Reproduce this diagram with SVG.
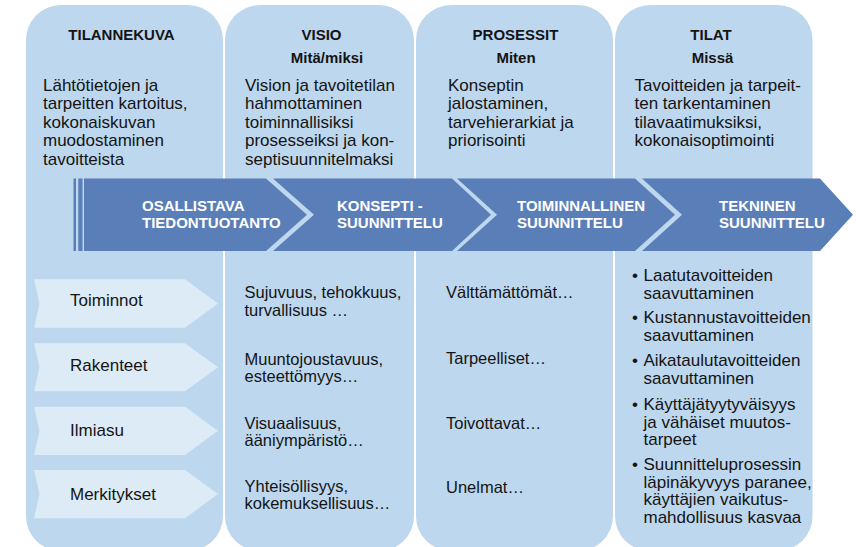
<svg xmlns="http://www.w3.org/2000/svg" width="856" height="547" viewBox="0 0 856 547">
<style>
.panel{fill:#BDD7EE}
.band{fill:#5A7EB7}
.light{fill:#DDEBF7}
text{font-family:"Liberation Sans",Arial,sans-serif;fill:#141414}
.title{font-size:15px;font-weight:bold;text-anchor:middle}
.body{font-size:17px}
.row{font-size:16.5px}
.band-t{font-size:15px;font-weight:bold;fill:#FFFFFF}
</style>
<rect width="856" height="547" fill="#FFFFFF"/>
<g id="col-tilannekuva">
<rect class="panel" x="26" y="5" width="197" height="546" rx="35"/>
<text class="title" x="121.5" y="40">TILANNEKUVA</text>
<text class="body" x="43" y="91">Lähtötietojen ja<tspan x="43" dy="18.4">tarpeitten kartoitus,</tspan><tspan x="43" dy="18.4">kokonaiskuvan</tspan><tspan x="43" dy="18.4">muodostaminen</tspan><tspan x="43" dy="18.4">tavoitteista</tspan></text>
</g>
<g id="col-visio">
<rect class="panel" x="225" y="5" width="189" height="546" rx="35"/>
<text class="title" x="321.5" y="40">VISIO</text>
<text class="title" x="327" y="63">Mitä/miksi</text>
<text class="body" x="245" y="91">Vision ja tavoitetilan<tspan x="245" dy="18.4">hahmottaminen</tspan><tspan x="245" dy="18.4">toiminnallisiksi</tspan><tspan x="245" dy="18.4">prosesseiksi ja kon-</tspan><tspan x="245" dy="18.4">septisuunnitelmaksi</tspan></text>
<text class="row" x="244.5" y="298">Sujuvuus, tehokkuus,<tspan x="244.5" dy="17.5">turvallisuus …</tspan></text>
<text class="row" x="244.5" y="364.5">Muuntojoustavuus,<tspan x="244.5" dy="17.5">esteettömyys…</tspan></text>
<text class="row" x="244.5" y="428.5">Visuaalisuus,<tspan x="244.5" dy="17.5">ääniympäristö…</tspan></text>
<text class="row" x="244.5" y="492">Yhteisöllisyys,<tspan x="244.5" dy="17">kokemuksellisuus…</tspan></text>
</g>
<g id="col-prosessit">
<rect class="panel" x="416" y="5" width="197" height="546" rx="35"/>
<text class="title" x="515.5" y="40">PROSESSIT</text>
<text class="title" x="516" y="63">Miten</text>
<text class="body" x="448" y="91">Konseptin<tspan x="448" dy="18.4">jalostaminen,</tspan><tspan x="448" dy="18.4">tarvehierarkiat ja</tspan><tspan x="448" dy="18.4">priorisointi</tspan></text>
<text class="row" x="446" y="298">Välttämättömät…</text>
<text class="row" x="446" y="364">Tarpeelliset…</text>
<text class="row" x="446" y="428.5">Toivottavat…</text>
<text class="row" x="446" y="493">Unelmat…</text>
</g>
<g id="col-tilat">
<rect class="panel" x="615" y="5" width="197.5" height="546" rx="35"/>
<text class="title" x="711" y="40">TILAT</text>
<text class="title" x="712.5" y="63">Missä</text>
<text class="body" x="634.5" y="91">Tavoitteiden ja tarpeit-<tspan x="634.5" dy="18.4">ten tarkentaminen</tspan><tspan x="634.5" dy="18.4">tilavaatimuksiksi,</tspan><tspan x="634.5" dy="18.4">kokonaisoptimointi</tspan></text>
<g class="body">
<text class="body" x="632" y="281">•</text>
<text class="body" x="643.5" y="281">Laatutavoitteiden<tspan x="643.5" dy="17.5">saavuttaminen</tspan></text>
<text class="body" x="632" y="323">•</text>
<text class="body" x="643.5" y="323">Kustannustavoitteiden<tspan x="643.5" dy="17.5">saavuttaminen</tspan></text>
<text class="body" x="632" y="366">•</text>
<text class="body" x="643.5" y="366">Aikataulutavoitteiden<tspan x="643.5" dy="17.5">saavuttaminen</tspan></text>
<text class="body" x="632" y="410">•</text>
<text class="body" x="643.5" y="410">Käyttäjätyytyväisyys<tspan x="643.5" dy="17.5">ja vähäiset muutos-</tspan><tspan x="643.5" dy="17.5">tarpeet</tspan></text>
<text class="body" x="632" y="470">•</text>
<text class="body" x="643.5" y="470">Suunnitteluprosessin<tspan x="643.5" dy="17.6">läpinäkyvyys paranee,</tspan><tspan x="643.5" dy="17.6">käyttäjien vaikutus-</tspan><tspan x="643.5" dy="17.6">mahdollisuus kasvaa</tspan></text>
</g>
</g>
<g id="phase-osallistava">
<rect class="band" x="73.5" y="178.5" width="2.5" height="72.5"/>
<rect class="band" x="78.3" y="178.5" width="4.2" height="72.5"/>
<path class="band" d="M84,178.5 L266,178.5 L307,214.7 L266,251 L84,251 Z"/>
<text class="band-t" x="142" y="211">OSALLISTAVA<tspan x="142" dy="16.5">TIEDONTUOTANTO</tspan></text>
</g>
<g id="phase-konsepti">
<path class="band" d="M273,178.5 L452,178.5 L491,214.7 L452,251 L273,251 L314,214.7 Z"/>
<text class="band-t" x="337" y="211">KONSEPTI -<tspan x="337" dy="16.5">SUUNNITTELU</tspan></text>
</g>
<g id="phase-toiminnallinen">
<path class="band" d="M457,178.5 L635,178.5 L675,214.7 L635,251 L457,251 L497,214.7 Z"/>
<text class="band-t" x="517" y="211">TOIMINNALLINEN<tspan x="517" dy="16.5">SUUNNITTELU</tspan></text>
</g>
<g id="phase-tekninen">
<path class="band" d="M642,178.5 L820,178.5 L853,214.7 L820,251 L642,251 L682,214.7 Z"/>
<text class="band-t" x="719" y="211">TEKNINEN<tspan x="719" dy="16.5">SUUNNITTELU</tspan></text>
</g>
<g id="row-toiminnot">
<path class="light" d="M34,279.3 L185,279.3 L218,303.5 L185,327.7 L34,327.7 L39.5,303.5 Z"/>
<text class="body" x="70" y="305.5">Toiminnot</text>
</g>
<g id="row-rakenteet">
<path class="light" d="M34,343.3 L185,343.3 L218,367.3 L185,391.3 L34,391.3 L39.5,367.3 Z"/>
<text class="body" x="70" y="370.5">Rakenteet</text>
</g>
<g id="row-ilmiasu">
<path class="light" d="M34,406.7 L185,406.7 L218,430.8 L185,455 L34,455 L39.5,430.8 Z"/>
<text class="body" x="70" y="435.5">Ilmiasu</text>
</g>
<g id="row-merkitykset">
<path class="light" d="M34,470 L185,470 L218,494 L185,518.3 L34,518.3 L39.5,494 Z"/>
<text class="body" x="70" y="500">Merkitykset</text>
</g>
</svg>
